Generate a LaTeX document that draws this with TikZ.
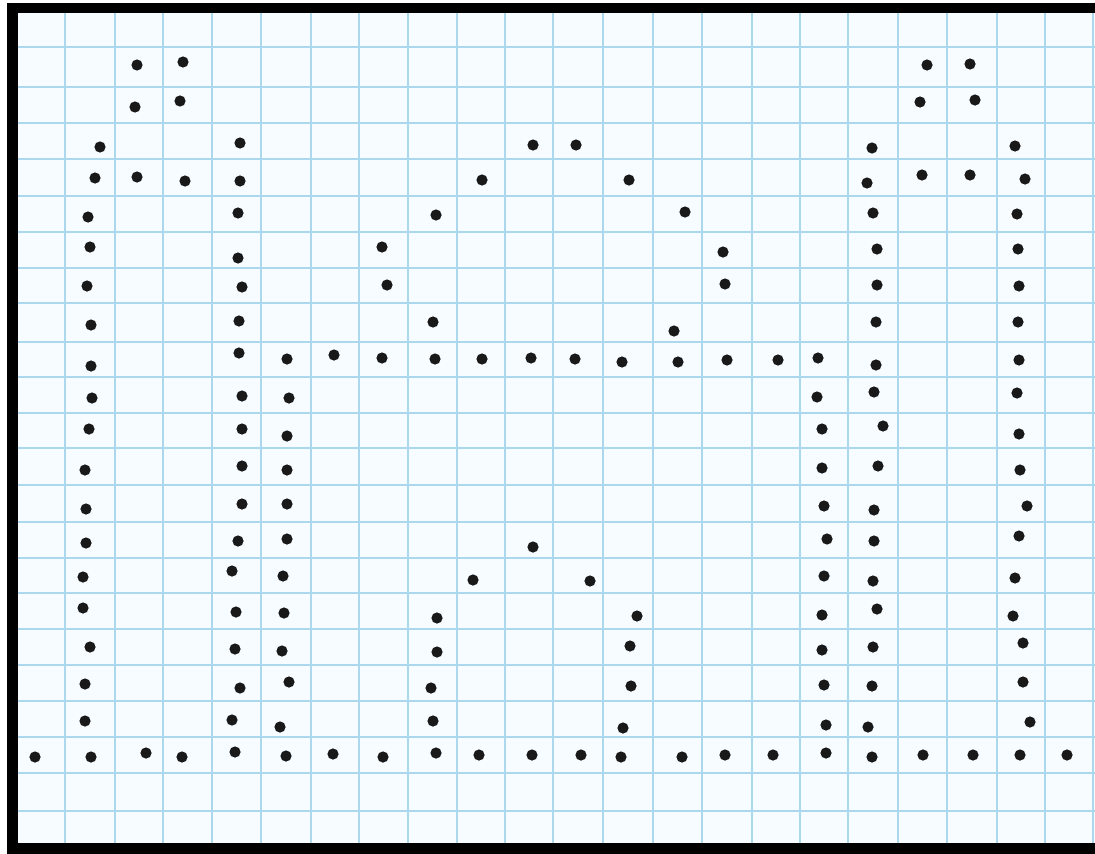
\documentclass[tikz,border=0pt]{standalone}
\definecolor{paper}{RGB}{246,252,255}
\definecolor{gridblue}{RGB}{172,216,238}
\definecolor{inkdot}{RGB}{25,25,25}
\tikzset{
  gridline/.style={draw=gridblue, line width=2.8pt},
  dot/.style={fill=inkdot},
}
\begin{document}
\begin{tikzpicture}[x=1pt,y=-1pt]
\useasboundingbox (0,0) rectangle (1095,854);
\fill[white] (0,0) rectangle (1095,854);
% black frame
\fill[black] (7,3) rectangle (1095,854);
\fill[paper] (18,13) rectangle (1095,843);
% grid
\foreach \gx in {65,115,163,212,261,311,359,408,457,505,553,603,653,702,752,800,848,898,947,997,1045,1093}
  \draw[gridline] (\gx,13) -- (\gx,843);
\foreach \gy in {47,87,123,159,196,232,268,303,342,377,413,448,485,522,558,593,629,665,701,737,773,811}
  \draw[gridline] (18,\gy) -- (1095,\gy);
% dots
\foreach \px/\py in {
 137/65,183/62,927/65,970/64,
 135/107,180/101,920/102,975/100,
 100/147,240/143,533/145,576/145,872/148,1015/146,
 95/178,137/177,185/181,240/181,482/180,629/180,867/183,922/175,970/175,1025/179,
 88/217,238/213,436/215,685/212,873/213,1017/214,
 90/247,238/258,382/247,723/252,877/249,1018/249,
 87/286,242/287,387/285,725/284,877/285,1019/286,
 91/325,239/321,433/322,674/331,876/322,1018/322,
 91/366,239/353,287/359,334/355,382/358,435/359,482/359,531/358,575/359,622/362,678/362,727/360,778/360,818/358,876/365,1019/360,
 92/398,242/396,289/398,817/397,874/392,1017/393,
 89/429,242/429,287/436,822/429,883/426,1019/434,
 85/470,242/466,287/470,822/468,878/466,1020/470,
 86/509,242/504,287/504,824/506,874/510,1027/506,
 86/543,238/541,287/539,533/547,827/539,874/541,1019/536,
 83/577,232/571,283/576,473/580,590/581,824/576,873/581,1015/578,
 83/608,236/612,284/613,437/618,637/616,822/615,877/609,1013/616,
 90/647,235/649,282/651,437/652,630/646,822/650,873/647,1023/643,
 85/684,240/688,289/682,431/688,631/686,824/685,872/686,1023/682,
 85/721,232/720,280/727,433/721,623/728,826/725,868/727,1030/722,
 35/757,91/757,146/753,182/757,235/752,286/756,333/754,383/757,436/753,479/755,532/755,581/755,621/757,682/757,725/755,773/755,826/753,872/757,923/755,973/755,1020/755,1067/755}
  \fill[dot] (\px,\py) circle (5.6);
\end{tikzpicture}
\end{document}
